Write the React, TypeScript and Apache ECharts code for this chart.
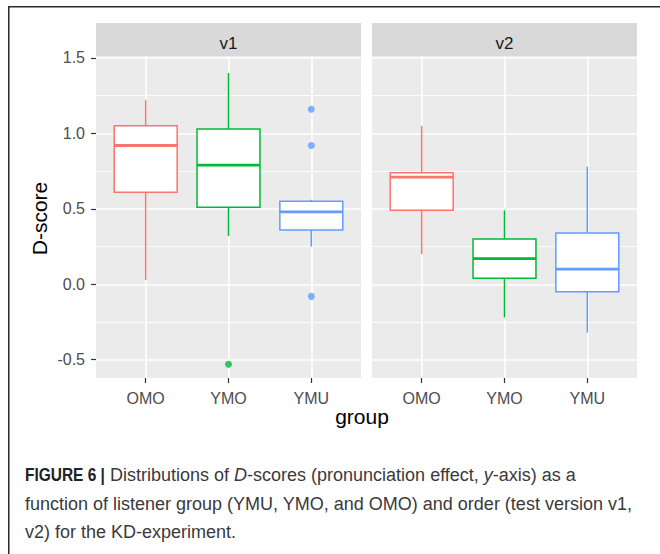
import React, { useEffect, useRef } from 'react';
import * as echarts from 'echarts';

const groups = ['OMO', 'YMO', 'YMU'];
const versions = ['v1', 'v2'];
const groupColors = ['#F8766D', '#00BA38', '#619CFF'];
// per group: [lower whisker, Q1, median, Q3, upper whisker]
const v1Stats = [
  [0.03, 0.61, 0.92, 1.05, 1.22],
  [0.32, 0.51, 0.79, 1.03, 1.40],
  [0.25, 0.36, 0.48, 0.55, 0.56],
];
const v2Stats = [
  [0.20, 0.49, 0.71, 0.74, 1.05],
  [-0.22, 0.04, 0.17, 0.30, 0.49],
  [-0.32, -0.05, 0.10, 0.34, 0.78],
];
const v1OutlierGroups = ['YMO', 'YMU', 'YMU', 'YMU'];
const v1OutlierValues = [-0.53, 1.16, 0.92, -0.08];
const v2OutlierGroups: string[] = [];
const v2OutlierValues: number[] = [];
const yMajorTicks = [-0.5, 0, 0.5, 1.0, 1.5];
const yMinorTicks = [-0.25, 0.25, 0.75, 1.25];
const yMin = -0.621;
const yMax = 1.513;
const xMin = 0.4;
const xMax = 3.6;
const captionBold = 'FIGURE 6 |';
const captionLines = [
  'Distributions of {i|D}-scores (pronunciation effect, {i|y}-axis) as a',
  'function of listener group (YMU, YMO, and OMO) and order (test version v1,',
  'v2) for the KD-experiment.',
];

const FONT = '"Liberation Sans", Arial, Helvetica, sans-serif';

export default function App() {
  const ref = useRef<HTMLDivElement>(null);
  useEffect(() => {
    if (!ref.current) return;
    const chart = echarts.init(ref.current, undefined, { renderer: 'svg' });
    const stats = [v1Stats, v2Stats];
    const outG = [v1OutlierGroups, v2OutlierGroups];
    const outV = [v1OutlierValues, v2OutlierValues];
    const gridLefts = [96, 372];
    const panelW = 265;
    const panelTop = 56;
    const panelH = 322;
    const xTickValues = groups.map((_, i) => i + 1);

    const renderBox = (params: any, api: any) => {
      const x = api.value(0);
      const lo = api.value(1), q1 = api.value(2), med = api.value(3), q3 = api.value(4), hi = api.value(5);
      const color = groupColors[api.value(6)];
      const w = api.size([0.76, 0])[0];
      const pLo = api.coord([x, lo]);
      const pQ1 = api.coord([x, q1]);
      const pMed = api.coord([x, med]);
      const pQ3 = api.coord([x, q3]);
      const pHi = api.coord([x, hi]);
      return {
        type: 'group',
        children: [
          { type: 'line', shape: { x1: pHi[0], y1: pHi[1], x2: pQ3[0], y2: pQ3[1] }, style: { stroke: color, lineWidth: 1.5 } },
          { type: 'line', shape: { x1: pQ1[0], y1: pQ1[1], x2: pLo[0], y2: pLo[1] }, style: { stroke: color, lineWidth: 1.5 } },
          { type: 'rect', shape: { x: pQ3[0] - w / 2, y: pQ3[1], width: w, height: pQ1[1] - pQ3[1] }, style: { fill: '#ffffff', stroke: color, lineWidth: 1.5 } },
          { type: 'line', shape: { x1: pMed[0] - w / 2, y1: pMed[1], x2: pMed[0] + w / 2, y2: pMed[1] }, style: { stroke: color, lineWidth: 2.8 } },
        ],
      };
    };

    const grid: any[] = [];
    const xAxis: any[] = [];
    const yAxis: any[] = [];
    const series: any[] = [];
    const graphic: any[] = [];

    versions.forEach((v, i) => {
      grid.push({
        left: gridLefts[i], top: panelTop, width: panelW, height: panelH,
        show: true, backgroundColor: '#EBEBEB', borderWidth: 0, containLabel: false,
      });
      xAxis.push({
        type: 'value', gridIndex: i, min: xMin, max: xMax, position: 'bottom',
        axisLine: { show: false, onZero: false },
        axisTick: { show: true, customValues: xTickValues, length: 5, lineStyle: { color: '#333333', width: 1.2 } },
        axisLabel: {
          show: true, customValues: xTickValues,
          formatter: (val: number) => groups[Math.round(val) - 1] ?? '',
          color: '#4D4D4D', fontSize: 16, fontFamily: FONT, margin: 12,
        },
        splitLine: { show: true, lineStyle: { color: '#ffffff', width: 1.6 } },
      });
      yAxis.push({
        type: 'value', gridIndex: i, min: yMin, max: yMax, position: 'left',
        axisLine: { show: false, onZero: false },
        axisTick: { show: i === 0, customValues: yMajorTicks, length: 5, lineStyle: { color: '#333333', width: 1.2 } },
        axisLabel: {
          show: i === 0, customValues: yMajorTicks,
          formatter: (val: number) => val.toFixed(1),
          color: '#4D4D4D', fontSize: 16, fontFamily: FONT, margin: 11,
        },
        splitLine: { show: true, lineStyle: { color: '#ffffff', width: 1.6 } },
      });
      yAxis.push({
        type: 'value', gridIndex: i, min: yMin, max: yMax, position: 'right',
        axisLine: { show: false, onZero: false },
        axisTick: { show: false, customValues: yMinorTicks },
        axisLabel: { show: false, customValues: yMinorTicks },
        splitLine: { show: true, lineStyle: { color: '#ffffff', width: 0.9 } },
      });
      series.push({
        type: 'custom', xAxisIndex: i, yAxisIndex: i * 2, z: 3,
        renderItem: renderBox,
        encode: { x: 0, y: [1, 2, 3, 4, 5] },
        data: stats[i].map((s, gi) => [gi + 1, ...s, gi]),
      });
      series.push({
        type: 'scatter', xAxisIndex: i, yAxisIndex: i * 2, z: 4,
        symbolSize: 7,
        data: outG[i].map((g, k) => {
          const gi = groups.indexOf(g);
          return { value: [gi + 1, outV[i][k]], itemStyle: { color: groupColors[gi] } };
        }),
      });
      // strip
      graphic.push({
        type: 'rect', left: gridLefts[i], top: 23, shape: { x: 0, y: 0, width: panelW, height: panelTop - 23 },
        style: { fill: '#D9D9D9' }, silent: true,
      });
      graphic.push({
        type: 'text', x: gridLefts[i] + panelW / 2, y: 43,
        style: { text: v, fill: '#1A1A1A', fontSize: 17, fontFamily: FONT, textAlign: 'center', textVerticalAlign: 'middle' },
      });
    });

    // frame
    graphic.push({
      type: 'polyline', shape: { points: [[8.75, 560], [8.75, 6.75], [670, 6.75]] },
      style: { stroke: '#2b2b2b', lineWidth: 1.5, fill: 'none' }, silent: true,
    });
    // axis titles
    graphic.push({
      type: 'text', x: 362, y: 416.5,
      style: { text: 'group', fill: '#000000', fontSize: 21, fontFamily: FONT, textAlign: 'center', textVerticalAlign: 'middle' },
    });
    graphic.push({
      type: 'text', x: 39.5, y: 218.5, rotation: Math.PI / 2,
      style: { text: 'D-score', fill: '#000000', fontSize: 21, fontFamily: FONT, textAlign: 'center', textVerticalAlign: 'middle' },
    });
    // caption
    const capY = [475.3, 503.6, 531.9];
    graphic.push({
      type: 'text', x: 25, y: capY[0], scaleX: 0.86,
      style: {
        text: captionBold, fill: '#222222', fontSize: 18, fontWeight: 'bold', fontFamily: FONT,
        textAlign: 'left', textVerticalAlign: 'middle',
      },
    });
    captionLines.forEach((line, k) => {
      graphic.push({
        type: 'text', x: k === 0 ? 110 : 25, y: capY[k],
        style: {
          text: line, fill: '#3a3a3a', fontSize: 18, fontFamily: FONT,
          textAlign: 'left', textVerticalAlign: 'middle',
          rich: {
            i: { fontStyle: 'italic', fontSize: 18, fontFamily: FONT, fill: '#3a3a3a' },
          },
        },
      });
    });

    chart.setOption({
      animation: false,
      backgroundColor: '#ffffff',
      grid, xAxis, yAxis, series, graphic,
    });
    return () => chart.dispose();
  }, []);
  return <div ref={ref} style={{ position: 'absolute', left: 0, top: 0, width: 660, height: 554 }} />;
}
